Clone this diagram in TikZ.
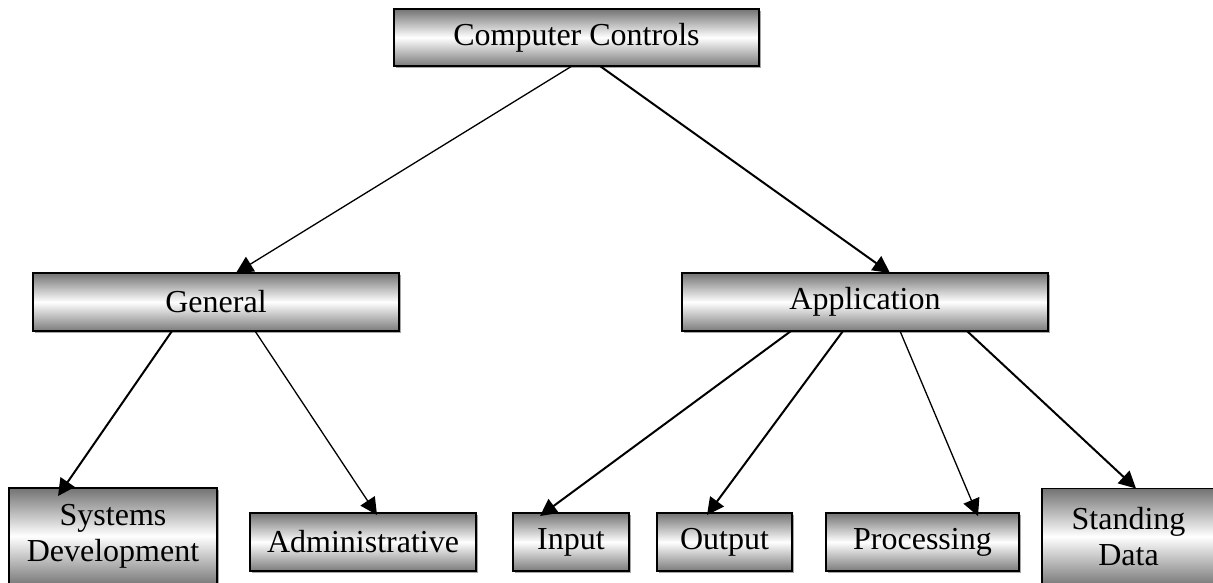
\documentclass[tikz,border=0pt]{standalone}
\usepackage{fontspec}
\setmainfont{Liberation Serif}
\usetikzlibrary{arrows.meta,shadows}
\begin{document}
\begin{tikzpicture}[x=1pt,y=-1pt,
  box/.style={draw=black, line width=1.8pt, outer sep=0pt, inner sep=0pt,
    align=center, font=\fontsize{32}{36}\selectfont,
    top color=black!55, bottom color=black!52, middle color=white,
    general shadow={fill=black!35, shadow xshift=2pt, shadow yshift=-2pt}},
  arr/.style={-{Triangle[length=17pt,width=17pt]}, line width=1.3pt},
  arrb/.style={arr, line width=2pt}]
\useasboundingbox (0,0) rectangle (1213,583);
\fill[white] (0,0) rectangle (1213,583);
\node[box, minimum width=365pt, minimum height=57pt] (cc) at (576.5,37.5) {Computer Controls};
\node[box, minimum width=366pt, minimum height=58pt] (gen) at (216,302) {General};
\node[box, minimum width=366pt, minimum height=58pt] (app) at (865,302) {Application};
\node[box, minimum width=208pt, minimum height=96pt] (sd) at (113,536) {Systems\\Development};
\node[box, minimum width=226pt, minimum height=58pt] (adm) at (363,542) {Administrative};
\node[box, minimum width=116pt, minimum height=58pt] (inp) at (571,542) {Input};
\node[box, minimum width=135pt, minimum height=58pt] (out) at (724.5,542) {Output};
\node[box, minimum width=193pt, minimum height=58pt] (proc) at (922.5,542) {Processing};
\node[box, minimum width=173pt, minimum height=96pt] (std) at (1128.5,536.5) {Standing\\Data};
\draw[arr] ([xshift=178pt]cc.south west) -- ([xshift=203pt]gen.north west);
\draw[arrb] ([xshift=206pt]cc.south west) -- ([xshift=208pt]app.north west);
\draw[arrb] ([xshift=139pt]gen.south west) -- ([xshift=49pt,yshift=-8pt]sd.north west);
\draw[arr] ([xshift=222pt]gen.south west) -- ([xshift=127pt,yshift=-2pt]adm.north west);
\draw[arrb] ([xshift=109pt]app.south west) -- ([xshift=27pt,yshift=-3pt]inp.north west);
\draw[arrb] ([xshift=161pt]app.south west) -- ([xshift=50pt,yshift=-2pt]out.north west);
\draw[arr] ([xshift=218pt]app.south west) -- ([xshift=152pt,yshift=-3pt]proc.north west);
\draw[arrb] ([xshift=285pt]app.south west) -- ([xshift=94pt]std.north west);
\end{tikzpicture}
\end{document}
